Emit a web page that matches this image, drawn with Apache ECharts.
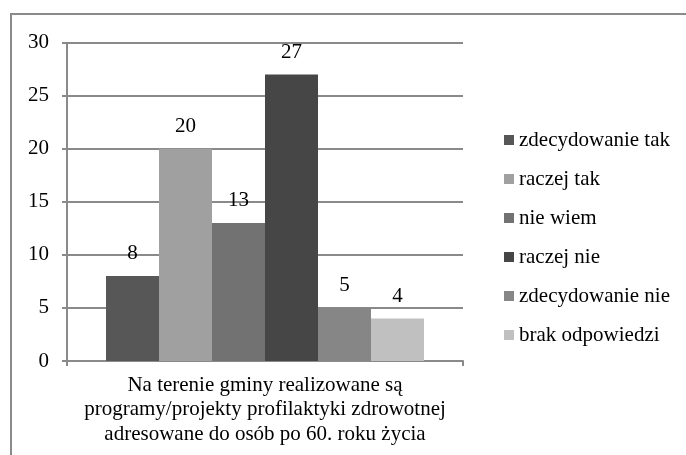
<!DOCTYPE html>
<html>
<head>
<meta charset="utf-8">
<script src="https://cdn.jsdelivr.net/npm/echarts@6/dist/echarts.min.js"></script>
<style>
    html, body { margin: 0; padding: 0; background: #fff; }
    #chart { width: 686px; height: 455px; }
</style>
</head>
<body>
<div id="chart"></div>
<script>
    var categories = ['Na terenie gminy realizowane są\nprogramy/projekty profilaktyki zdrowotnej\nadresowane do osób po 60. roku życia'];
    var seriesNames = ['zdecydowanie tak', 'raczej tak', 'nie wiem', 'raczej nie', 'zdecydowanie nie', 'brak odpowiedzi'];
    var values = [8, 20, 13, 27, 5, 4];
    var yTicks = [0, 5, 10, 15, 20, 25, 30];

    var colors = ['#575757', '#a0a0a0', '#727272', '#464646', '#868686', '#c0c0c0'];
    var font = '"Liberation Serif", "Times New Roman", serif';

    var chart = echarts.init(document.getElementById('chart'));

    var series = seriesNames.map(function (name, i) {
        return {
            name: name,
            type: 'bar',
            barWidth: 53,
            barGap: 0,
            data: [values[i]],
            itemStyle: { color: colors[i] },
            label: {
                show: true,
                position: 'top',
                distance: 12,
                color: '#000',
                fontFamily: font,
                fontSize: 21
            }
        };
    });

    chart.setOption({
        animation: false,
        textStyle: { fontFamily: font },
        graphic: [{
            type: 'rect',
            shape: { x: 11, y: 14, width: 720, height: 520 },
            style: { fill: 'none', stroke: '#8a8a8a', lineWidth: 2 },
            silent: true
        }],
        grid: { left: 67, right: 223, top: 42.7, bottom: 94 },
        legend: {
            orient: 'vertical',
            left: 504,
            top: 129.5,
            padding: 0,
            icon: 'rect',
            itemWidth: 10,
            itemHeight: 10,
            itemGap: 18,
            textStyle: { color: '#000', fontFamily: font, fontSize: 21, lineHeight: 21 },
            data: seriesNames
        },
        xAxis: {
            type: 'category',
            data: categories,
            axisLine: { lineStyle: { color: '#8a8a8a', width: 2 } },
            axisTick: { show: true, length: 5, lineStyle: { color: '#8a8a8a', width: 2 } },
            axisLabel: {
                color: '#000',
                fontFamily: font,
                fontSize: 21,
                lineHeight: 24.5,
                margin: 12,
                align: 'center'
            }
        },
        yAxis: {
            type: 'value',
            min: yTicks[0],
            max: yTicks[yTicks.length - 1],
            interval: 5,
            axisLine: { show: true, lineStyle: { color: '#8a8a8a', width: 2 } },
            axisTick: { show: true, length: 5, lineStyle: { color: '#8a8a8a', width: 2 } },
            splitLine: { lineStyle: { color: '#8a8a8a', width: 2 } },
            axisLabel: { color: '#000', fontFamily: font, fontSize: 21, margin: 18 }
        },
        series: series
    });
</script>
</body>
</html>
